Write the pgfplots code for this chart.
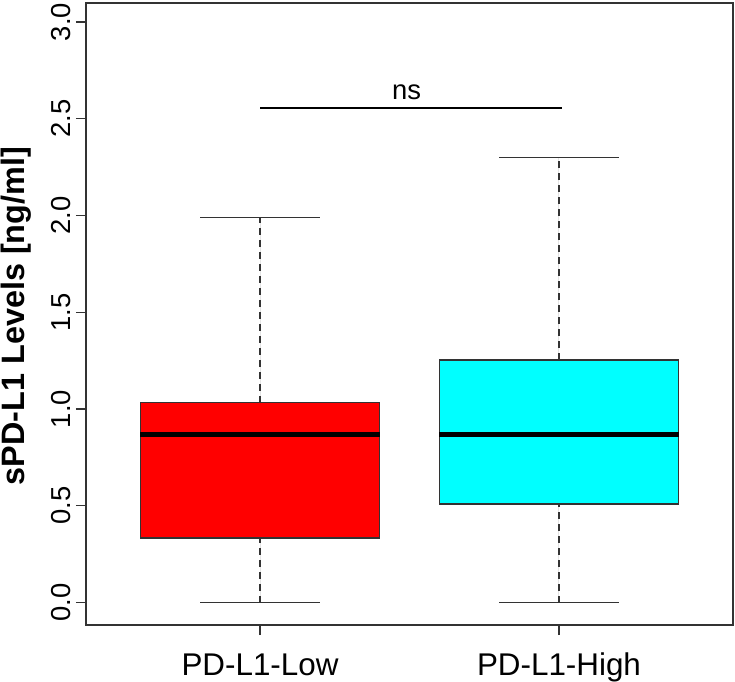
\documentclass[border=0pt]{standalone}
\usepackage{pgfplots}
\pgfplotsset{compat=1.18}
\usepgfplotslibrary{statistics}
\usepackage{fontspec}
\setmainfont{Liberation Sans}
\definecolor{rline}{HTML}{333333}
\definecolor{rred}{HTML}{FF0000}
\definecolor{rcyan}{HTML}{00FFFF}
\begin{document}
\begin{tikzpicture}
\begin{axis}[
  name=ax,
  scale only axis,
  width=647bp, height=622bp,
  xmin=0.418, xmax=2.582,
  ymin=-0.116, ymax=3.098,
  axis line style={rline, line width=1.6bp},
  xtick={1,2}, xticklabels={PD-L1-Low,PD-L1-High},
  ytick={0,0.5,1,1.5,2,2.5,3},
  yticklabels={0.0,0.5,1.0,1.5,2.0,2.5,3.0},
  tick align=outside,
  tick pos=left,
  major tick length=10bp,
  tick style={rline, line width=1.4bp},
  yticklabel style={rotate=90, anchor=base, inner sep=0pt, font=\fontsize{27.5}{30}\selectfont},
  xticklabel style={anchor=base, inner sep=0pt, font=\fontsize{31.5}{36}\selectfont},
  yticklabel shift=5bp,
  xticklabel shift=40bp,
  boxplot/draw direction=y,
  boxplot/box extend=0.8,
  boxplot/every median/.style={black, line width=5bp},
  boxplot/draw/lower whisker/.code={
    \draw[rline, line width=1.5bp, dash pattern=on 7bp off 5bp]
      (boxplot box cs:\pgfplotsboxplotvalue{lower whisker},0.5) --
      (boxplot box cs:\pgfplotsboxplotvalue{lower quartile},0.5);
    \draw[rline, line width=1.6bp]
      (boxplot box cs:\pgfplotsboxplotvalue{lower whisker},0.25) --
      (boxplot box cs:\pgfplotsboxplotvalue{lower whisker},0.75);
  },
  boxplot/draw/upper whisker/.code={
    \draw[rline, line width=1.5bp, dash pattern=on 7bp off 5bp]
      (boxplot box cs:\pgfplotsboxplotvalue{upper quartile},0.5) --
      (boxplot box cs:\pgfplotsboxplotvalue{upper whisker},0.5);
    \draw[rline, line width=1.6bp]
      (boxplot box cs:\pgfplotsboxplotvalue{upper whisker},0.25) --
      (boxplot box cs:\pgfplotsboxplotvalue{upper whisker},0.75);
  },
]
\addplot[boxplot prepared={draw position=1, lower whisker=0, lower quartile=0.333,
  median=0.869, upper quartile=1.033, upper whisker=1.99},
  fill=rred, draw=rline, line width=1.6bp, solid] coordinates {};
\addplot[boxplot prepared={draw position=2, lower whisker=0, lower quartile=0.509,
  median=0.866, upper quartile=1.253, upper whisker=2.30},
  fill=rcyan, draw=rline, line width=1.6bp, solid] coordinates {};
\addplot[black, line width=2.5bp] coordinates {(1,2.555) (2.01,2.555)};
\node[anchor=base, font=\fontsize{27.5}{30}\selectfont] at (axis cs:1.49,2.597) {ns};
\end{axis}
\path (ax.south west) ++(-61bp,309bp) node[rotate=90, anchor=base, inner sep=0pt,
  font=\fontsize{32.5}{36}\selectfont\bfseries] {sPD-L1 Levels [ng/ml]};
\pgfresetboundingbox
\path ([xshift=-86bp,yshift=-57bp]ax.south west) rectangle ([xshift=2bp,yshift=3bp]ax.north east);
\end{tikzpicture}
\end{document}
